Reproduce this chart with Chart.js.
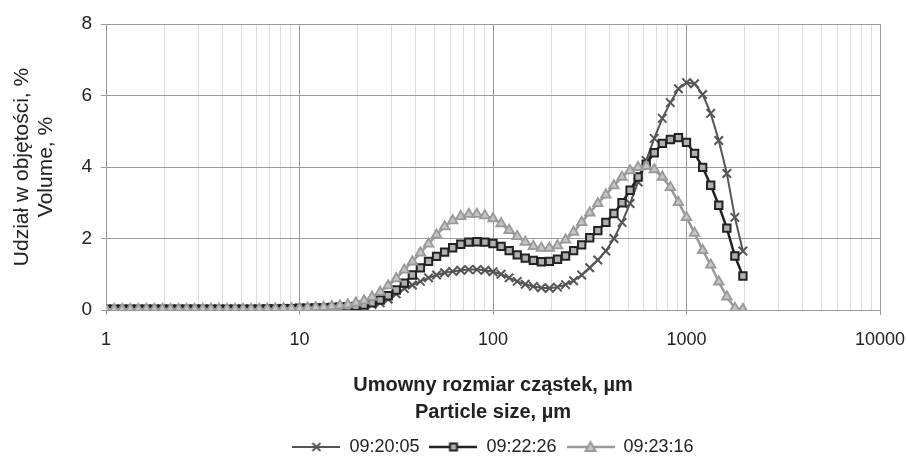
<!DOCTYPE html>
<html>
<head>
<meta charset="utf-8">
<title>Particle size distribution</title>
<script src="https://cdn.jsdelivr.net/npm/chart.js@4/dist/chart.umd.min.js"></script>
<style>
    html, body { margin: 0; padding: 0; background: #fff; }
    #wrap { width: 908px; height: 466px; }
</style>
</head>
<body>
<div id="wrap"><canvas id="psdChart" width="908" height="466"></canvas></div>
<script>
// Particle size classes, um (log spaced)
const sizes = [
    1, 1.101, 1.212, 1.334, 1.468, 1.616, 1.778, 1.957, 2.154, 2.371, 2.610, 2.873,
    3.162, 3.481, 3.831, 4.217, 4.642, 5.109, 5.623, 6.190, 6.813, 7.499, 8.254, 9.085,
    10, 11.01, 12.12, 13.34, 14.68, 16.16, 17.78, 19.57, 21.54, 23.71, 26.10, 28.73,
    31.62, 34.81, 38.31, 42.17, 46.42, 51.09, 56.23, 61.90, 68.13, 74.99, 82.54, 90.85,
    100, 110.1, 121.2, 133.4, 146.8, 161.6, 177.8, 195.7, 215.4, 237.1, 261.0, 287.3,
    316.2, 348.1, 383.1, 421.7, 464.2, 510.9, 562.3, 619.0, 681.3, 749.9, 825.4, 908.5,
    1000, 1101, 1212, 1334, 1468, 1616, 1778, 1957
];

// Volume share, %
const vol092005 = [
    0.02, 0.02, 0.02, 0.02, 0.02, 0.02, 0.02, 0.02, 0.02, 0.02, 0.02, 0.02,
    0.02, 0.02, 0.02, 0.02, 0.02, 0.02, 0.02, 0.02, 0.03, 0.03, 0.04, 0.04,
    0.05, 0.05, 0.06, 0.06, 0.07, 0.08, 0.09, 0.10, 0.12, 0.15, 0.20, 0.30,
    0.45, 0.60, 0.70, 0.80, 0.90, 0.98, 1.04, 1.08, 1.11, 1.13, 1.13, 1.11,
    1.07, 1.00, 0.90, 0.80, 0.72, 0.66, 0.62, 0.61, 0.64, 0.71, 0.82, 0.98,
    1.18, 1.40, 1.65, 2.00, 2.45, 2.98, 3.58, 4.18, 4.80, 5.36, 5.80, 6.19,
    6.36, 6.33, 6.03, 5.50, 4.74, 3.82, 2.59, 1.65
];
const vol092226 = [
    0.02, 0.02, 0.02, 0.02, 0.02, 0.02, 0.02, 0.02, 0.02, 0.02, 0.02, 0.02,
    0.02, 0.02, 0.02, 0.02, 0.02, 0.02, 0.02, 0.02, 0.03, 0.03, 0.04, 0.04,
    0.05, 0.05, 0.06, 0.06, 0.07, 0.08, 0.09, 0.10, 0.14, 0.20, 0.28, 0.40,
    0.56, 0.75, 0.98, 1.18, 1.36, 1.50, 1.62, 1.74, 1.84, 1.90, 1.91, 1.90,
    1.86, 1.78, 1.66, 1.54, 1.45, 1.39, 1.35, 1.36, 1.42, 1.51, 1.66, 1.82,
    2.02, 2.22, 2.45, 2.70, 3.00, 3.35, 3.72, 4.08, 4.40, 4.66, 4.77, 4.82,
    4.69, 4.38, 3.99, 3.49, 2.93, 2.29, 1.51, 0.95
];
const vol092316 = [
    0.02, 0.02, 0.02, 0.02, 0.02, 0.02, 0.02, 0.02, 0.02, 0.02, 0.02, 0.02,
    0.02, 0.02, 0.02, 0.02, 0.02, 0.02, 0.02, 0.02, 0.03, 0.03, 0.04, 0.04,
    0.05, 0.06, 0.07, 0.08, 0.10, 0.12, 0.15, 0.20, 0.26, 0.36, 0.50, 0.68,
    0.88, 1.12, 1.35, 1.60, 1.85, 2.10, 2.33, 2.50, 2.62, 2.68, 2.68, 2.64,
    2.56, 2.42, 2.23, 2.06, 1.90, 1.78, 1.73, 1.73, 1.80, 1.96, 2.18, 2.45,
    2.72, 2.98, 3.22, 3.48, 3.72, 3.90, 3.99, 4.02, 3.93, 3.72, 3.43, 3.01,
    2.59, 2.15, 1.67, 1.26, 0.79, 0.37, 0.05, 0.02
];

const seriesNames = ['09:20:05', '09:22:26', '09:23:16'];
const xTickLabels = ['1', '10', '100', '1000', '10000'];
const yTickLabels = ['0', '2', '4', '6', '8'];

const FONT = "'Liberation Sans', Arial, sans-serif";

function isDecade(v) {
    return xTickLabels.indexOf(String(v)) !== -1;
}

function toPoints(values) {
    return sizes.map((x, i) => ({ x: x, y: values[i] }));
}

// Small canvas used as legend symbol: line with the marker in the middle
function legendIcon(color, lineWidth, marker, fill) {
    const c = document.createElement('canvas');
    c.width = 48;
    c.height = 14;
    const g = c.getContext('2d');
    g.strokeStyle = color;
    g.lineWidth = lineWidth;
    g.beginPath();
    g.moveTo(0, 7);
    g.lineTo(48, 7);
    g.stroke();
    g.lineWidth = 2;
    if (marker === 'cross') {
        g.beginPath();
        g.moveTo(20, 3); g.lineTo(28, 11);
        g.moveTo(28, 3); g.lineTo(20, 11);
        g.stroke();
    } else if (marker === 'rect') {
        g.fillStyle = fill;
        g.fillRect(20.5, 3.5, 7, 7);
        g.strokeRect(20.5, 3.5, 7, 7);
    } else {
        g.fillStyle = fill;
        g.beginPath();
        g.moveTo(24, 2); g.lineTo(29, 11); g.lineTo(19, 11);
        g.closePath();
        g.fill();
        g.stroke();
    }
    return c;
}

const icons = [
    legendIcon('#555', 2, 'cross'),
    legendIcon('#222', 2.5, 'rect', '#b0b0b0'),
    legendIcon('#999', 2.5, 'triangle', '#c4c4c4')
];

const ctx = document.getElementById('psdChart').getContext('2d');

new Chart(ctx, {
    type: 'line',
    data: {
        datasets: [
            {
                label: seriesNames[0],
                data: toPoints(vol092005),
                borderColor: '#555',
                borderWidth: 2,
                pointStyle: 'crossRot',
                pointRadius: 6,
                pointBorderColor: '#555',
                pointBorderWidth: 2,
                order: 2
            },
            {
                label: seriesNames[1],
                data: toPoints(vol092226),
                borderColor: '#222',
                borderWidth: 2.5,
                pointStyle: 'rect',
                pointRadius: 5.2,
                pointBackgroundColor: '#b0b0b0',
                pointBorderColor: '#222',
                pointBorderWidth: 2,
                order: 1
            },
            {
                label: seriesNames[2],
                data: toPoints(vol092316),
                borderColor: '#999',
                borderWidth: 2.5,
                pointStyle: 'triangle',
                pointRadius: 5.5,
                pointBackgroundColor: '#c4c4c4',
                pointBorderColor: '#999',
                pointBorderWidth: 1.8,
                order: 0
            }
        ]
    },
    options: {
        responsive: false,
        animation: false,
        layout: {
            padding: { top: 24, right: 0, left: 0, bottom: 0 }
        },
        scales: {
            x: {
                type: 'logarithmic',
                min: 1,
                max: 10000,
                afterBuildTicks: function(scale) {
                    const ticks = [];
                    for (let p = 1; p <= 1000; p *= 10) {
                        for (let s = 1; s < 10; s++) {
                            ticks.push({ value: s * p, major: s === 1 });
                        }
                    }
                    ticks.push({ value: 10000, major: true });
                    scale.ticks = ticks;
                },
                afterFit: function(scale) {
                    scale.height = 118;
                    scale.paddingRight = 28;
                },
                grid: {
                    color: c => (c.tick && isDecade(c.tick.value)) ? '#9a9a9a' : '#dcdcdc',
                    tickColor: c => (c.tick && isDecade(c.tick.value)) ? '#9a9a9a' : 'rgba(0,0,0,0)',
                    tickLength: 5,
                    lineWidth: 1
                },
                border: { color: '#9a9a9a' },
                ticks: {
                    autoSkip: false,
                    maxRotation: 0,
                    padding: 14,
                    color: '#222',
                    font: { family: FONT, size: 18 },
                    callback: v => isDecade(v) ? String(v) : ''
                },
                title: {
                    display: true,
                    text: ['Umowny rozmiar cząstek, µm', 'Particle size, µm'],
                    color: '#222',
                    font: { family: FONT, size: 20, weight: 'bold', lineHeight: 1.35 },
                    padding: { top: 21, bottom: 2 }
                }
            },
            y: {
                min: 0,
                max: 8,
                afterFit: function(scale) {
                    scale.width = 106;
                },
                grid: {
                    color: '#9a9a9a',
                    tickLength: 5,
                    lineWidth: 1
                },
                border: { color: '#9a9a9a' },
                ticks: {
                    stepSize: 2,
                    padding: 9,
                    color: '#222',
                    font: { family: FONT, size: 19 },
                    callback: v => yTickLabels.indexOf(String(v)) !== -1 ? String(v) : ''
                },
                title: {
                    display: true,
                    text: ['Udział w objętości, %', 'Volume, %'],
                    color: '#222',
                    font: { family: FONT, size: 21, lineHeight: 1.15 },
                    padding: { top: 10, bottom: 0 }
                }
            }
        },
        plugins: {
            tooltip: { enabled: false },
            legend: {
                position: 'bottom',
                fullSize: false,
                labels: {
                    usePointStyle: true,
                    pointStyleWidth: 48,
                    padding: 10,
                    color: '#222',
                    font: { family: FONT, size: 18 },
                    generateLabels: function(chart) {
                        const items = Chart.defaults.plugins.legend.labels.generateLabels(chart);
                        items.forEach(item => { item.pointStyle = icons[item.datasetIndex]; });
                        return items.sort((a, b) => a.datasetIndex - b.datasetIndex);
                    }
                }
            }
        }
    }
});
</script>
</body>
</html>
